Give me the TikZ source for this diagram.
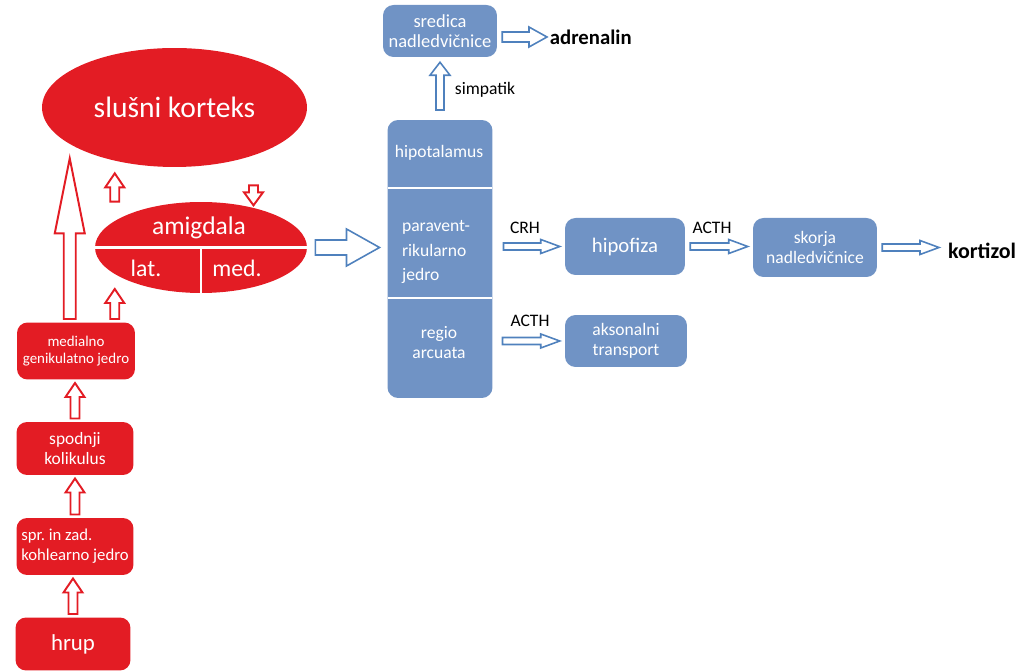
\documentclass[tikz,border=0pt]{standalone}
\usepackage{fontspec}
\setmainfont{Carlito}
\usetikzlibrary{calc, shapes.geometric}

\definecolor{hrred}{RGB}{227,28,36}
\definecolor{hrblue}{RGB}{112,147,197}
\definecolor{arblue}{RGB}{79,129,189}

\tikzset{
  redbox/.style={rectangle, rounded corners=6pt, fill=hrred, text=white, align=center, inner sep=0pt, outer sep=2pt},
  redoval/.style={ellipse, fill=hrred, text=white, inner sep=0pt},
  bluebox/.style={rectangle, rounded corners=6pt, fill=hrblue, text=white, align=center, inner sep=0pt, outer sep=3pt},
  coltext/.style={text=white, align=center, font=\fontsize{10}{11.4}\selectfont},
  lbl/.style={font=\fontsize{10}{12}\selectfont},
  divider/.style={draw=white, line width=1.5pt},
  redarrow/.style={draw=hrred, fill=white, line width=1.1pt},
  bluearrow/.style={draw=arblue, fill=white, line width=0.9pt},
  % hollow block arrow: shaft half width, head half width, head length
  block/.style n args={3}{to path={
    ($(\tikztostart)!#1!90:(\tikztotarget)$)
    -- ($($(\tikztotarget)!#3!(\tikztostart)$)!#1!90:(\tikztotarget)$)
    -- ($($(\tikztotarget)!#3!(\tikztostart)$)!#2!90:(\tikztotarget)$)
    -- (\tikztotarget)
    -- ($($(\tikztotarget)!#3!(\tikztostart)$)!#2!-90:(\tikztotarget)$)
    -- ($($(\tikztotarget)!#3!(\tikztostart)$)!#1!-90:(\tikztotarget)$)
    -- ($(\tikztostart)!#1!-90:(\tikztotarget)$)
    -- cycle}}
}

\begin{document}
\begin{tikzpicture}[x=0.02cm, y=-0.02cm]
  \useasboundingbox (0,0) rectangle (1031,671);

  % auditory pathway
  \node[redoval, minimum width=5.3cm, minimum height=2.38cm, font=\fontsize{16.8}{18}\selectfont] (kort) at (174.5,107.5) {slušni korteks};
  \node[redoval, minimum width=4.24cm, minimum height=1.82cm] (amyg) at (201,247.5) {};
  \draw[divider] (amyg.west) -- (amyg.east);
  \draw[divider] (amyg.center) -- (amyg.south);
  \node[text=white, font=\fontsize{14.5}{16}\selectfont] (amyname) at (199,228) {amigdala};
  \node[text=white, font=\fontsize{13.5}{15}\selectfont] (lat) at (146,268) {lat.};
  \node[text=white, font=\fontsize{13.5}{15}\selectfont] (med) at (237,268) {med.};

  \node[redbox, minimum width=2.36cm, minimum height=1.14cm, font=\fontsize{8.5}{9.7}\selectfont] (mgb) at (76,351) {medialno\\genikulatno jedro};
  \node[redbox, minimum width=2.34cm, minimum height=1.06cm, font=\fontsize{9.9}{11.4}\selectfont] (ic) at (75,448.5) {spodnji\\kolikulus};
  \node[redbox, minimum width=2.34cm, minimum height=1.14cm, align=left, font=\fontsize{9.5}{11.4}\selectfont] (cn) at (75,546.5) {spr.\ in zad.\\kohlearno jedro};
  \node[redbox, minimum width=2.3cm, minimum height=1.06cm, font=\fontsize{13}{14}\selectfont] (hrup) at (73,644) {hrup};

  % red arrows
  \draw[redarrow, block={0.09cm}{0.19cm}{0.28cm}] (hrup.north) to (hrup.north |- cn.south);
  \draw[redarrow, block={0.09cm}{0.19cm}{0.28cm}] (cn.north) to (cn.north |- ic.south);
  \draw[redarrow, block={0.09cm}{0.19cm}{0.28cm}] (ic.north) to (ic.north |- mgb.south);
  \coordinate (bigtail) at ($(mgb.north west)!0.45!(mgb.north east)$);
  \coordinate (amtail) at ($(mgb.north west)!0.81!(mgb.north east)$);
  \draw[redarrow, block={0.12cm}{0.3cm}{1.5cm}] (bigtail) to ($(bigtail |- kort.south)+(0,-9)$);
  \draw[redarrow, block={0.09cm}{0.19cm}{0.28cm}] (amtail) to ($(amtail)+(0,-30)$);
  \draw[redarrow, block={0.09cm}{0.19cm}{0.28cm}] (amtail |- amyg.north) to ($(amtail |- kort.south)+(0,6)$);
  \draw[redarrow, block={0.09cm}{0.19cm}{0.26cm}] ($(kort.south)+(79,18)$) to ($(kort.south)+(79,38)$);

  % hypothalamus column
  \node[bluebox, outer sep=0pt, minimum width=2.1cm, minimum height=5.56cm] (col) at (440,259) {};
  \draw[divider] ($(col.north west)!0.245!(col.south west)$) -- ($(col.north east)!0.245!(col.south east)$);
  \draw[divider] ($(col.north west)!0.64!(col.south west)$) -- ($(col.north east)!0.64!(col.south east)$);
  \node[coltext] (hyp) at (439,153) {hipotalamus};
  \node[coltext, align=left, font=\fontsize{10}{14}\selectfont] (pvn) at (436,252) {paravent-\\rikularno\\jedro};
  \node[coltext] (arc) at (439,343) {regio\\arcuata};

  % hormone targets
  \node[bluebox, minimum width=2.28cm, minimum height=1.04cm, font=\fontsize{10.5}{11.4}\selectfont] (sred) at (440,31) {sredica\\nadledvičnice};
  \node[bluebox, minimum width=2.4cm, minimum height=1.14cm, font=\fontsize{11.8}{13}\selectfont] (hipo) at (625,246.5) {hipofiza};
  \node[bluebox, minimum width=2.48cm, minimum height=1.18cm, font=\fontsize{10}{11.4}\selectfont] (skor) at (815,247.5) {skorja\\nadledvičnice};
  \node[bluebox, minimum width=2.44cm, minimum height=1.04cm, font=\fontsize{10}{11.4}\selectfont] (aks) at (626,341) {aksonalni\\transport};
  \node[anchor=west, inner sep=1.5pt, font=\bfseries\fontsize{11.8}{13}\selectfont] (adr) at (547,37) {adrenalin};
  \node[anchor=west, inner sep=5pt, font=\bfseries\fontsize{12.5}{14}\selectfont] (kzol) at (939,251) {kortizol};

  \node[lbl] (simp) at (485,90) {simpatik};
  \node[lbl] (crh) at (525,228) {CRH};
  \node[lbl] (acthup) at (712,228) {ACTH};
  \node[lbl] (acthdn) at (530,321) {ACTH};

  % blue arrows
  \draw[bluearrow, block={0.15cm}{0.37cm}{0.66cm}] ($(amyg.east)+(8,0)$) to ($(col.west |- amyg.east)+(-8,0)$);
  \draw[bluearrow, block={0.08cm}{0.2cm}{0.26cm}] ($(col.north)+(0,-10)$) to (col.north |- sred.south);
  \draw[bluearrow, block={0.1cm}{0.2cm}{0.36cm}] (sred.east |- adr.west) to (adr.west);
  \draw[bluearrow, block={0.07cm}{0.14cm}{0.38cm}] ($(col.east |- hipo.west)+(11,0)$) to (hipo.west);
  \draw[bluearrow, block={0.07cm}{0.14cm}{0.38cm}] (hipo.east) to (hipo.east -| skor.west);
  \draw[bluearrow, block={0.07cm}{0.14cm}{0.38cm}] (skor.east) to (skor.east -| kzol.west);
  \draw[bluearrow, block={0.07cm}{0.14cm}{0.38cm}] ($(col.east |- aks.west)+(10,0)$) to (aks.west);
\end{tikzpicture}
\end{document}
